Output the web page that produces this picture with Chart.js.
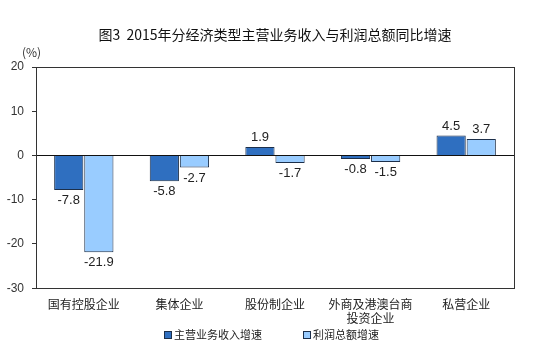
<!DOCTYPE html>
<html>
<head>
<meta charset="utf-8">
<script src="https://cdn.jsdelivr.net/npm/chart.js@4"></script>
<style>
  html, body { margin: 0; padding: 0; background: #fff; }
  #wrap { width: 554px; height: 349px; position: relative; }
</style>
</head>
<body>
<div id="wrap"><canvas id="chart"></canvas></div>
<script>
// chart data
const categories = ['国有控股企业', '集体企业', '股份制企业', ['外商及港澳台商', '投资企业'], '私营企业'];
const seriesNames = ['主营业务收入增速', '利润总额增速'];
const revenueGrowth = [-7.8, -5.8, 1.9, -0.8, 4.5];
const profitGrowth = [-21.9, -2.7, -1.7, -1.5, 3.7];
const yTicks = [20, 10, 0, -10, -20, -30];

const titleText = '图3  2015年分经济类型主营业务收入与利润总额同比增速';
const cjkFont = '"Noto Sans CJK SC", "Noto Sans", sans-serif';
const numFont = '"Liberation Sans", Arial, sans-serif';
const barColors = ['#2f6fc0', '#99ccff'];
const edgeColor = '#1c2f4a';

// title, unit label, box around plot, value labels and legend
const decorPlugin = {
    id: 'decor',
    afterDatasetsDraw(chart) {
        const ctx = chart.ctx;
        const area = chart.chartArea;
        ctx.save();

        // plot frame
        ctx.strokeStyle = '#333';
        ctx.lineWidth = 1;
        ctx.strokeRect(Math.round(area.left) + 0.5, Math.round(area.top) + 0.5,
            Math.round(area.right - area.left), Math.round(area.bottom - area.top));

        // value labels
        ctx.font = '13px ' + numFont;
        ctx.fillStyle = '#222';
        ctx.textAlign = 'center';
        chart.data.datasets.forEach((ds, i) => {
            chart.getDatasetMeta(i).data.forEach((bar, j) => {
                const v = ds.data[j];
                if (v >= 0) {
                    ctx.textBaseline = 'bottom';
                    ctx.fillText(v.toFixed(1), bar.x, bar.y - 3);
                } else {
                    ctx.textBaseline = 'top';
                    ctx.fillText(v.toFixed(1), bar.x, bar.y + 4);
                }
            });
        });

        // title
        ctx.font = '14px ' + cjkFont;
        ctx.fillStyle = '#111';
        ctx.textBaseline = 'middle';
        ctx.fillText(titleText, 275, 35);

        // unit
        ctx.font = '12px ' + cjkFont;
        ctx.fillStyle = '#333';
        ctx.textAlign = 'left';
        ctx.fillText('(%)', 22, 52);

        // legend
        const legendX = [164, 303];
        const legendY = 335;
        ctx.font = '11px ' + cjkFont;
        seriesNames.forEach((name, i) => {
            ctx.fillStyle = barColors[i];
            ctx.fillRect(legendX[i] + 0.5, legendY - 3.5, 7, 7);
            ctx.strokeStyle = edgeColor;
            ctx.strokeRect(legendX[i] + 0.5, legendY - 3.5, 7, 7);
            ctx.fillStyle = '#222';
            ctx.fillText(name, legendX[i] + 10, legendY);
        });
        ctx.restore();
    }
};

new Chart(document.getElementById('chart'), {
    type: 'bar',
    data: {
        labels: categories,
        datasets: seriesNames.map((name, i) => ({
            label: name,
            data: i === 0 ? revenueGrowth : profitGrowth,
            backgroundColor: barColors[i],
            borderColor: edgeColor,
            borderWidth: 1,
            barPercentage: 0.97,
            categoryPercentage: 0.63
        }))
    },
    options: {
        responsive: true,
        maintainAspectRatio: false,
        animation: false,
        layout: { padding: { top: 67, right: 40, left: 4, bottom: 22 } },
        plugins: {
            title: { display: false },
            tooltip: { enabled: false },
            legend: { display: false }
        },
        scales: {
            x: {
                grid: { display: false },
                border: { display: true, color: '#333' },
                ticks: {
                    color: '#222',
                    padding: 1,
                    maxRotation: 0,
                    autoSkip: false,
                    font: { family: cjkFont, size: 12, lineHeight: 1.2 }
                }
            },
            y: {
                min: -30,
                max: 20,
                afterFit(scale) { scale.width = 32; },
                afterBuildTicks(scale) { scale.ticks = yTicks.map(v => ({ value: v })); },
                border: { display: true, color: '#333' },
                grid: {
                    drawOnChartArea: true,
                    tickLength: 4,
                    tickColor: '#333',
                    color: c => c.tick && c.tick.value === 0 ? '#111' : 'rgba(0,0,0,0)'
                },
                ticks: {
                    color: '#333',
                    padding: 8,
                    font: { family: numFont, size: 12 }
                }
            }
        }
    },
    plugins: [decorPlugin]
});
</script>
</body>
</html>
